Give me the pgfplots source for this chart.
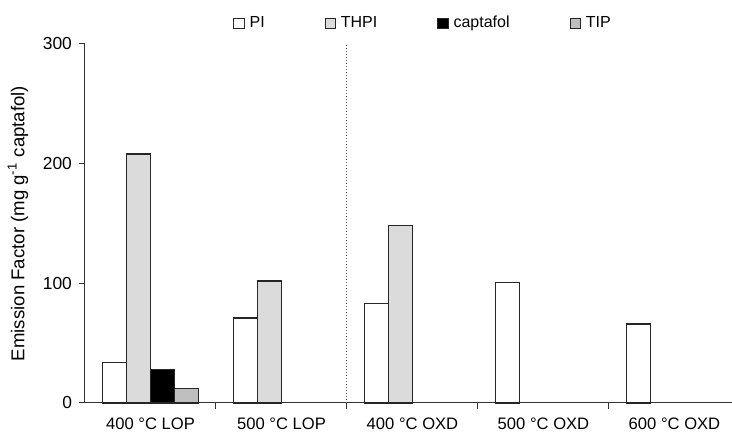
\documentclass[border=0pt]{standalone}
\usepackage{fontspec}
\setmainfont{Liberation Sans}
\usepackage{pgfplots}
\pgfplotsset{compat=1.18}
\usetikzlibrary{calc}

\begin{document}
\begin{tikzpicture}
\begin{axis}[
  scale only axis,
  width=323.5pt, height=179.5pt,
  xmin=-0.5, xmax=4.439, ymin=0, ymax=300,
  axis lines*=left,
  axis line style={line width=0.5pt, black!80},
  ybar=0pt, bar width=0.183,
  ytick={0,100,200,300},
  xtick={0,1,2,3,4},
  xticklabels={400 °C LOP, 500 °C LOP, 400 °C OXD, 500 °C OXD, 600 °C OXD},
  minor xtick={0.5,1.5,2.5,3.5},
  major x tick style={draw=none},
  minor x tick style={draw=black!80, line width=0.5pt},
  minor tick length=3pt,
  tick align=outside,
  major tick length=3pt,
  tick style={line width=0.5pt, black!80},
  /pgf/number format/assume math mode=true,
  yticklabel style={font=\fontsize{8.7}{10}\selectfont},
  xticklabel style={font=\fontsize{8.3}{10}\selectfont, yshift=-1pt},
  ylabel={Emission Factor (mg g\textsuperscript{-1} captafol)},
  ylabel style={font=\fontsize{9.3}{11}\selectfont, at={(axis description cs:-0.1036,0.5)}, anchor=center},
  legend columns=4,
  legend style={draw=none, fill=none, at={(0.524,1.057)}, anchor=center,
    font=\fontsize{8}{9.5}\selectfont,
    /tikz/every even column/.append style={column sep=28pt},
    /tikz/every odd column/.append style={column sep=0.5pt}},
  legend image code/.code={\draw[#1, line width=0.4pt] (0pt,-2.6pt) rectangle (5.2pt,2.6pt);},
  clip=false,
]
\addplot[draw=black!85, line width=0.6pt, fill=white]
  coordinates {(0,34)(1,71)(2,83)(3,101)(4,66)};
\addplot[draw=black!85, line width=0.6pt, fill=black!14]
  coordinates {(0,208)(1,102)(2,148)};
\addplot[draw=black!85, line width=0.6pt, fill=black]
  coordinates {(0,28)};
\addplot[draw=black!85, line width=0.6pt, fill=black!25]
  coordinates {(0,12)};
\legend{PI, THPI, captafol, TIP}
\draw[densely dotted, black!60, line width=0.5pt] (axis cs:1.5,0) -- (axis cs:1.5,300);
\end{axis}
\pgfresetboundingbox
\useasboundingbox ($(current axis.south west)+(-42.5pt,-15.5pt)$) rectangle ($(current axis.north east)+(0pt,22pt)$);
\end{tikzpicture}
\end{document}
